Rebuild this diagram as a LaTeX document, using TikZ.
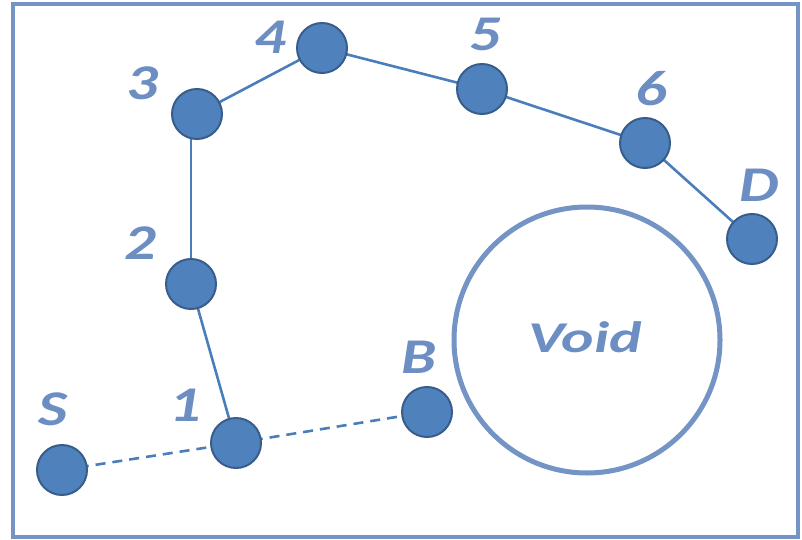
\documentclass[tikz,border=0pt]{standalone}
\usepackage{fontspec}
\setmainfont{Carlito}
\usetikzlibrary{backgrounds}
\definecolor{nodefill}{HTML}{4F81BD}
\definecolor{nodeedge}{HTML}{385D8A}
\definecolor{linkcol}{HTML}{4A7EBB}
\definecolor{labcol}{HTML}{6C8EC2}
\definecolor{framecol}{HTML}{7394C4}
\begin{document}
\begin{tikzpicture}[x=1pt,y=-1pt,
  sensor/.style={circle,fill=nodefill,draw=nodeedge,line width=2pt,minimum size=50pt,inner sep=0pt},
  lab/.style={text=labcol,font=\fontsize{50}{50}\selectfont\bfseries\itshape,inner sep=0pt,xscale=1.25},
  link/.style={draw=linkcol,line width=2.6pt},
  dlink/.style={link,dash pattern=on 10pt off 7pt}]
\useasboundingbox (0,0) rectangle (802,540);
\draw[framecol,line width=4pt] (13,4) rectangle (798,537);
\node[draw=framecol,line width=5pt,circle,minimum size=266pt,inner sep=0pt] (void) at (587,340) {};
\node[text=labcol,font=\fontsize{44}{44}\selectfont\bfseries\itshape,inner sep=0pt,xscale=1.4] (voidlab) at (585,337) {Void};
\node[sensor] (S) at (62,470) {};
\node[sensor] (n1) at (236,443) {};
\node[sensor] (n2) at (191,284) {};
\node[sensor] (n3) at (197,114) {};
\node[sensor] (n4) at (322,48) {};
\node[sensor] (n5) at (482,89) {};
\node[sensor] (n6) at (645,143) {};
\node[sensor] (D) at (752,239) {};
\node[sensor] (B) at (427,412) {};
\begin{scope}[on background layer]
\draw[dlink] (S.center) -- (n1.center);
\draw[dlink] (n1.center) -- (B.center);
\draw[link] (n1.center) -- (n2.center);
\draw[link] (n2.center) -- (n2 |- n3);
\draw[link] (n3.center) -- (n4.center);
\draw[link] (n4.center) -- (n5.center);
\draw[link] (n5.center) -- (n6.center);
\draw[link] (n6.center) -- (D.center);
\end{scope}
\node[lab] (lS) at (53,409) {S};
\node[lab] (l1) at (185,405) {1};
\node[lab] (l2) at (140,243) {2};
\node[lab] (l3) at (142,83) {3};
\node[lab] (l4) at (270,37) {4};
\node[lab] (l5) at (485,34) {5};
\node[lab] (l6) at (651,89) {6};
\node[lab] (lD) at (759,185) {D};
\node[lab] (lB) at (419,357) {B};
\end{tikzpicture}
\end{document}
